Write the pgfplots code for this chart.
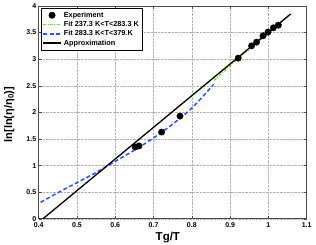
\documentclass[border=0pt]{standalone}
\usepackage{fontspec}
\setmainfont{Liberation Sans}
\usepackage{pgfplots}
\pgfplotsset{compat=1.18}
\definecolor{fitgreen}{RGB}{110,230,20}
\definecolor{fitblue}{RGB}{40,80,255}
\begin{document}
\begin{tikzpicture}[x=1pt,y=1pt]
\useasboundingbox (-38.7,-26.2) rectangle (277.3,218.8);
\begin{axis}[at={(0,0)},anchor=south west, scale only axis,
 width=268pt, height=212.8pt,
 xmin=0.4,xmax=1.1,ymin=0,ymax=4,
 xtick={0.4,0.5,0.6,0.7,0.8,0.9,1,1.1},
 ytick={0,0.5,1,1.5,2,2.5,3,3.5,4},
 xticklabels={0.4,0.5,0.6,0.7,0.8,0.9,1,1.1},
 yticklabels={0,0.5,1,1.5,2,2.5,3,3.5,4},
 grid=major, grid style={densely dotted, black!30, line width=0.4pt},
 axis line style={black!70, line width=0.6pt},
 tick style={black!70, line width=0.5pt},
 tick align=inside, major tick length=3pt,
 tick label style={font=\fontsize{7}{8}\selectfont\bfseries},
 xticklabel style={yshift=-0.5pt},
 yticklabel style={xshift=1pt},
 /pgf/number format/assume math mode=true,
 xlabel={Tg/T},
 ylabel={ln[ln(η/η\textsubscript{0})]},
 xlabel style={font=\fontsize{11.5}{12}\selectfont\bfseries, at={(axis description cs:0.482,-0.104)}, anchor=base},
 ylabel style={font=\fontsize{11}{12}\selectfont\bfseries, at={(axis description cs:-0.11,0.49)}, anchor=center},
 legend style={at={(axis description cs:0.007,0.99)}, anchor=north west,
   font=\fontsize{7.3}{8.5}\selectfont\bfseries, draw=black, line width=0.5pt,
   inner sep=1.5pt, row sep=-1.5pt, legend cell align=left},
 legend image code/.code={\draw[mark repeat=2,mark phase=2,#1] plot coordinates {(0pt,0pt) (9pt,0pt) (18pt,0pt)};},
]
\addlegendimage{only marks, mark=*, mark size=3.2pt, black}
\addlegendentry{Experiment}
\addlegendimage{fitgreen, line width=1.3pt, dash pattern=on 3pt off 1.5pt on 0.8pt off 1.5pt}
\addlegendentry{Fit 237.3 K<T<283.3 K}
\addlegendimage{fitblue, line width=1.5pt, dash pattern=on 4pt off 2.5pt}
\addlegendentry{Fit 283.3 K<T<379.K}
\addlegendimage{black, line width=1.3pt}
\addlegendentry{Approximation}

\addplot[forget plot, fitgreen, line width=1.3pt, dash pattern=on 3pt off 1.5pt on 0.8pt off 1.5pt] coordinates {
(0.858,2.60) (0.90,2.88) (0.95,3.19) (1.00,3.49) (1.05,3.79)};
\addplot[forget plot, fitblue, line width=1.5pt, dash pattern=on 4pt off 2.5pt, smooth, tension=0.5] coordinates {
(0.405,0.31) (0.45,0.49) (0.50,0.68) (0.55,0.87) (0.60,1.08) (0.65,1.29) (0.70,1.52) (0.75,1.78) (0.80,2.08) (0.85,2.47) (0.855,2.52)};
\addplot[forget plot, black, line width=1.3pt] coordinates {(0.411,0) (1.058,3.85)};
\addplot[forget plot, only marks, mark=*, mark size=3.2pt, black] coordinates {
(0.652,1.35) (0.662,1.37) (0.721,1.63) (0.769,1.93) (0.921,3.02) (0.956,3.25) (0.969,3.32) (0.986,3.44) (0.999,3.51) (1.013,3.59) (1.026,3.64)};
\end{axis}
\end{tikzpicture}
\end{document}
